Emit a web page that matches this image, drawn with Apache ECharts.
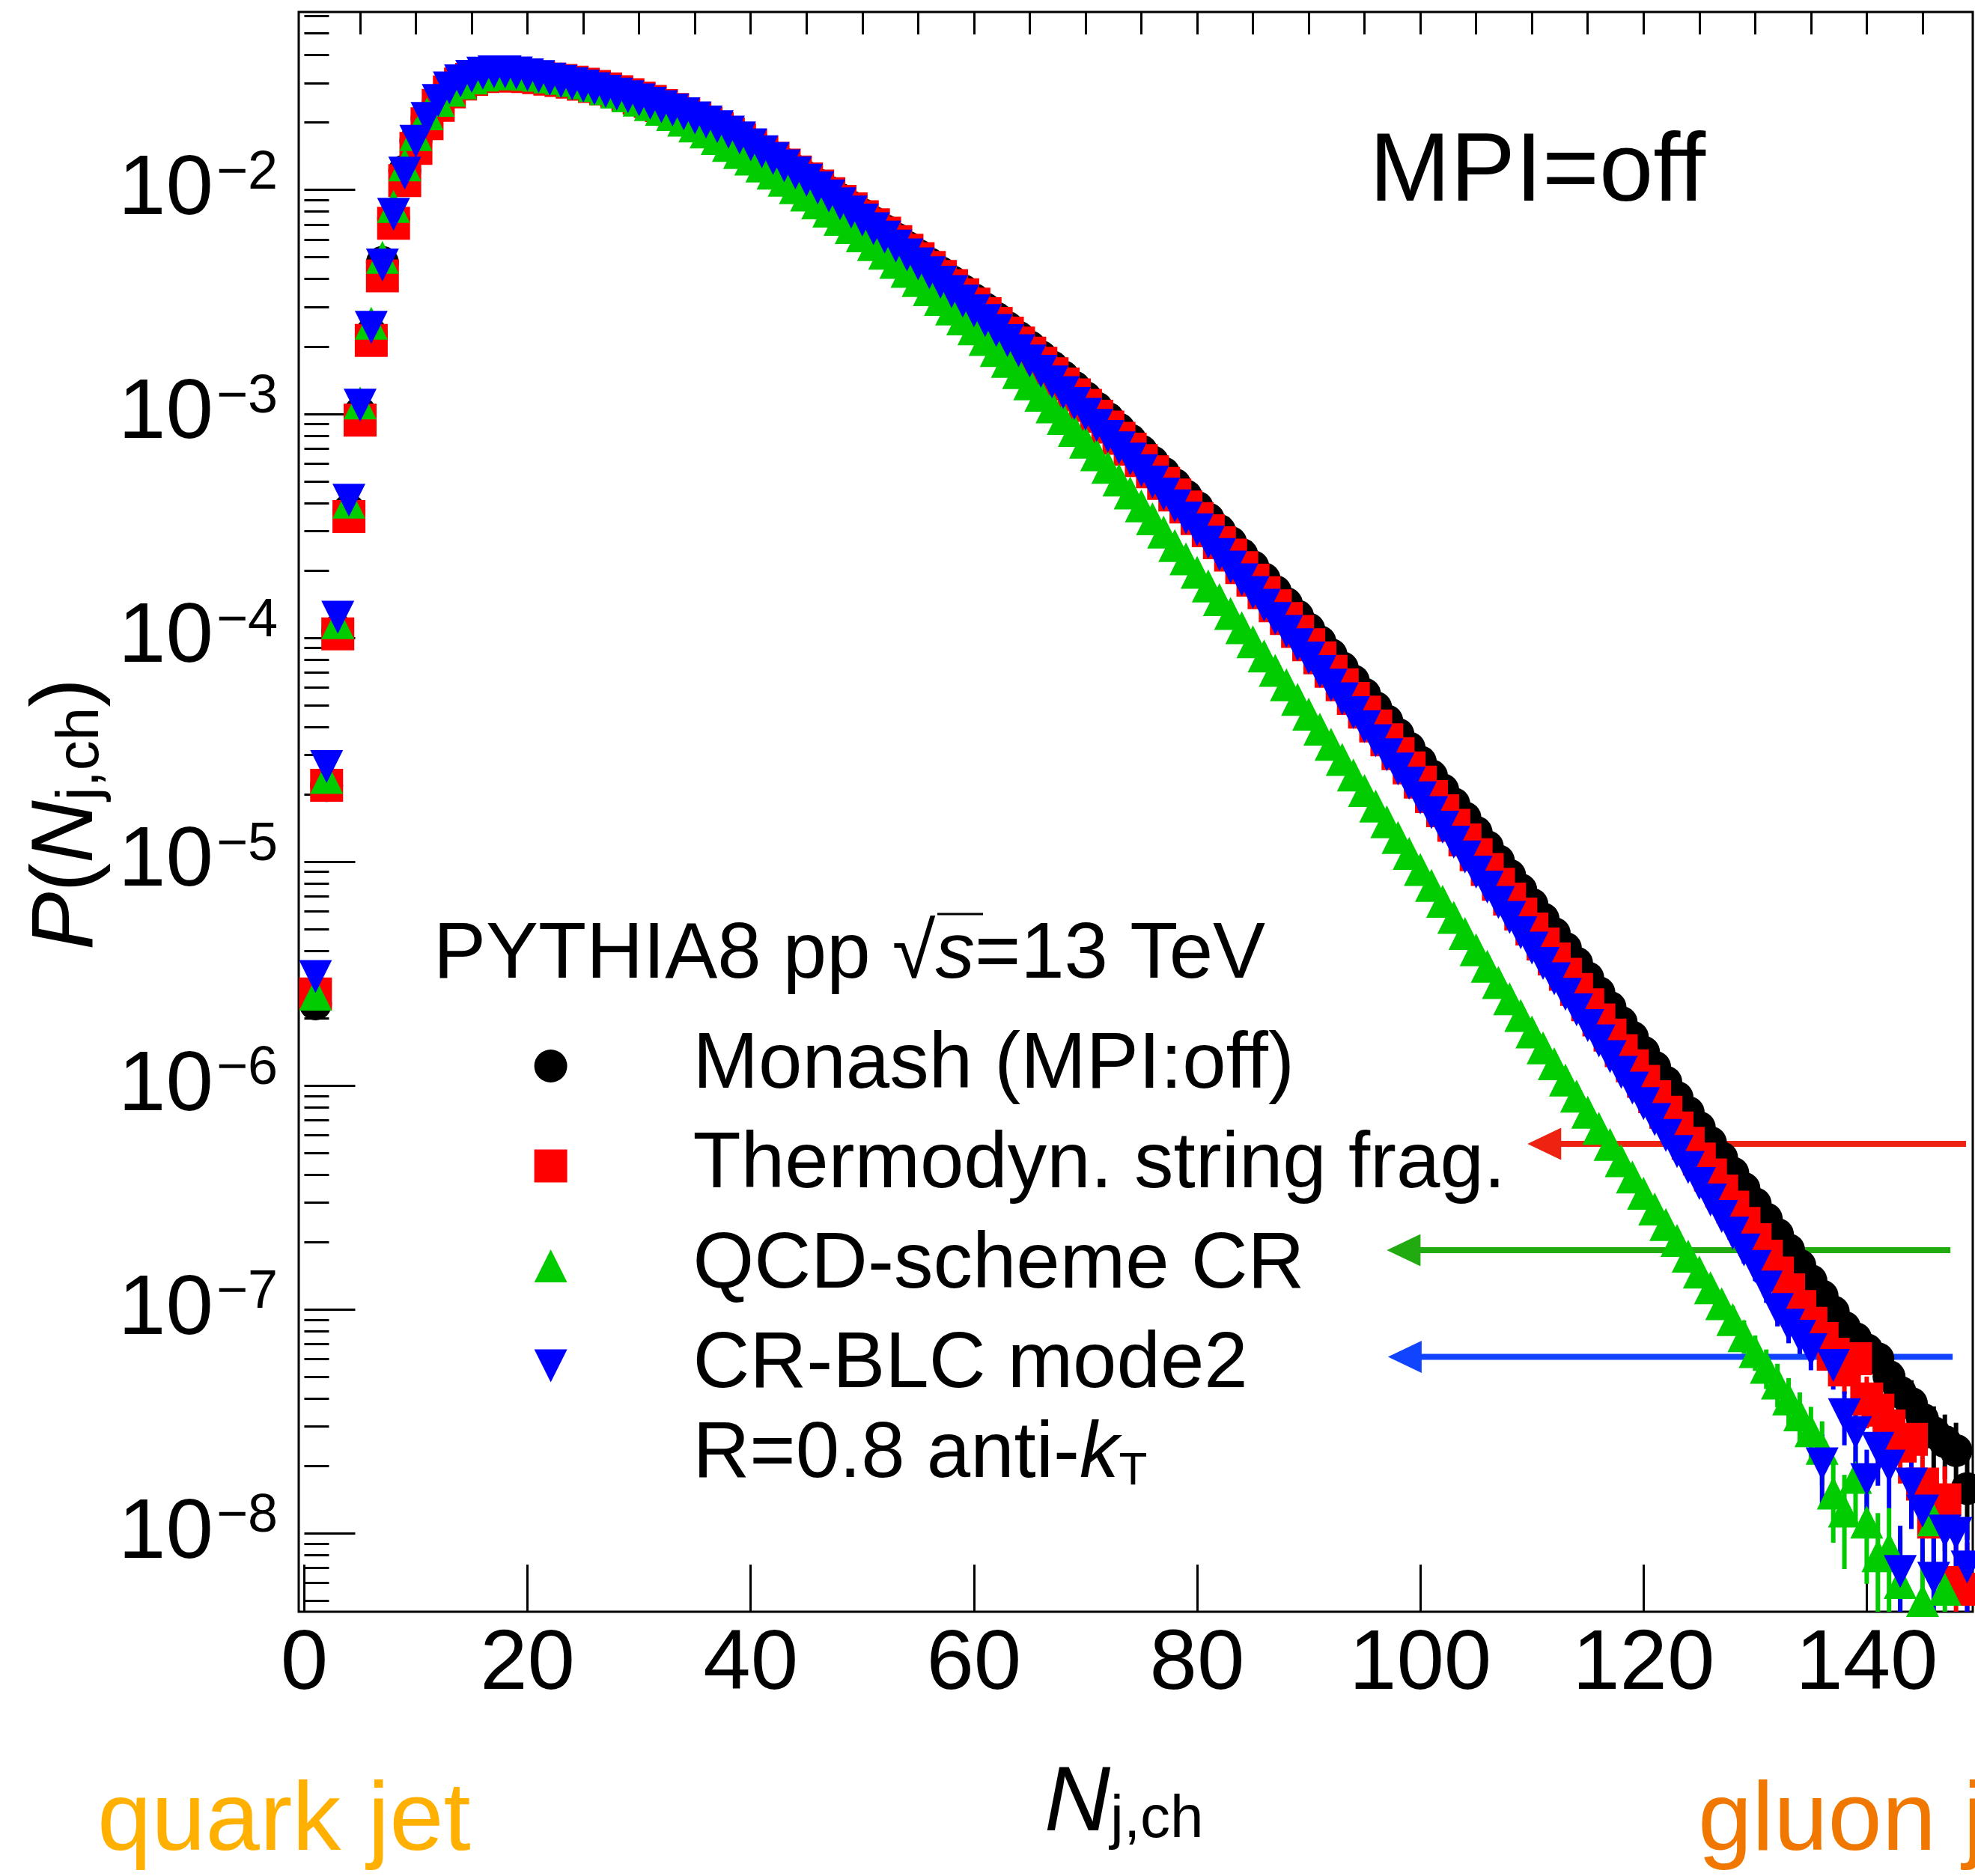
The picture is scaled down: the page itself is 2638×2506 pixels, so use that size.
<!DOCTYPE html>
<html><head><meta charset="utf-8">
<script src="https://cdn.jsdelivr.net/npm/echarts@6/dist/echarts.min.js"></script>
<style>html,body{margin:0;padding:0;background:#fff}#c{width:2638px;height:2506px}</style>
</head><body><div id="c"></div>
<script>
// ---------------- data (log10 of P(N_j,ch)) ----------------
const seriesNames = ['Monash (MPI:off)', 'Thermodyn. string frag.', 'QCD-scheme CR', 'CR-BLC mode2'];
const nch = Array.from({length: 149}, (_, i) => i + 1);   // bins N = 1 ... 149

const log10P_monash = [-5.635,-4.660,-3.969,-3.431,-2.996,-2.644,-2.324,-2.128,-1.915,-1.780,
 -1.680,-1.608,-1.558,-1.526,-1.505,-1.493,-1.488,-1.489,-1.490,-1.493,
 -1.497,-1.503,-1.509,-1.517,-1.526,-1.536,-1.547,-1.559,-1.573,-1.588,
 -1.603,-1.621,-1.639,-1.658,-1.679,-1.701,-1.724,-1.748,-1.773,-1.799,
 -1.827,-1.855,-1.884,-1.914,-1.944,-1.976,-2.009,-2.042,-2.076,-2.110,
 -2.145,-2.181,-2.218,-2.255,-2.292,-2.330,-2.369,-2.409,-2.449,-2.490,
 -2.531,-2.573,-2.615,-2.658,-2.701,-2.745,-2.790,-2.835,-2.881,-2.927,
 -2.974,-3.021,-3.069,-3.117,-3.166,-3.215,-3.265,-3.316,-3.367,-3.418,
 -3.470,-3.522,-3.575,-3.629,-3.683,-3.737,-3.793,-3.848,-3.904,-3.961,
 -4.018,-4.076,-4.134,-4.193,-4.252,-4.312,-4.372,-4.432,-4.493,-4.555,
 -4.617,-4.679,-4.742,-4.805,-4.869,-4.933,-4.997,-5.061,-5.126,-5.191,
 -5.256,-5.321,-5.387,-5.453,-5.519,-5.585,-5.651,-5.718,-5.784,-5.851,
 -5.918,-5.985,-6.053,-6.120,-6.188,-6.255,-6.323,-6.391,-6.460,-6.528,
 -6.596,-6.665,-6.734,-6.803,-6.872,-6.940,-7.010,-7.080,-7.130,-7.180,
 -7.220,-7.300,-7.370,-7.420,-7.490,-7.550,-7.590,-7.630,-7.800];

const log10P_thermo = [-5.591,-4.659,-3.983,-3.459,-3.028,-2.672,-2.384,-2.149,-1.958,-1.815,
 -1.704,-1.622,-1.562,-1.527,-1.506,-1.494,-1.490,-1.490,-1.491,-1.494,
 -1.499,-1.505,-1.511,-1.519,-1.528,-1.538,-1.549,-1.561,-1.575,-1.590,
 -1.605,-1.623,-1.641,-1.660,-1.681,-1.703,-1.726,-1.750,-1.775,-1.802,
 -1.831,-1.859,-1.889,-1.920,-1.951,-1.983,-2.017,-2.051,-2.085,-2.120,
 -2.156,-2.193,-2.231,-2.269,-2.307,-2.346,-2.386,-2.427,-2.468,-2.510,
 -2.553,-2.596,-2.640,-2.684,-2.729,-2.774,-2.821,-2.867,-2.915,-2.962,
 -3.011,-3.059,-3.109,-3.158,-3.209,-3.259,-3.311,-3.363,-3.416,-3.468,
 -3.522,-3.576,-3.631,-3.687,-3.743,-3.799,-3.857,-3.914,-3.972,-4.031,
 -4.090,-4.150,-4.210,-4.271,-4.332,-4.394,-4.456,-4.518,-4.581,-4.645,
 -4.709,-4.773,-4.838,-4.903,-4.969,-5.035,-5.101,-5.167,-5.234,-5.301,
 -5.368,-5.435,-5.503,-5.571,-5.639,-5.707,-5.775,-5.844,-5.912,-5.981,
 -6.050,-6.119,-6.189,-6.258,-6.328,-6.399,-6.471,-6.543,-6.616,-6.688,
 -6.762,-6.837,-6.912,-6.987,-7.062,-7.130,-7.200,-7.270,-7.220,-7.400,
 -7.450,-7.520,-7.610,-7.580,-7.780,-7.950,-7.850,-8.220,-8.250];

const log10P_qcdcr = [-5.592,-4.624,-3.933,-3.394,-2.951,-2.595,-2.301,-2.074,-1.888,-1.753,
 -1.660,-1.600,-1.555,-1.522,-1.500,-1.487,-1.481,-1.479,-1.481,-1.484,
 -1.488,-1.495,-1.502,-1.511,-1.522,-1.534,-1.548,-1.563,-1.580,-1.599,
 -1.619,-1.640,-1.663,-1.688,-1.714,-1.741,-1.770,-1.801,-1.833,-1.862,
 -1.893,-1.925,-1.957,-1.990,-2.023,-2.058,-2.095,-2.131,-2.168,-2.205,
 -2.244,-2.283,-2.324,-2.364,-2.405,-2.446,-2.489,-2.532,-2.576,-2.620,
 -2.668,-2.717,-2.766,-2.816,-2.866,-2.917,-2.969,-3.021,-3.074,-3.127,
 -3.183,-3.239,-3.296,-3.353,-3.411,-3.469,-3.528,-3.588,-3.648,-3.708,
 -3.769,-3.830,-3.892,-3.955,-4.018,-4.081,-4.146,-4.210,-4.275,-4.341,
 -4.408,-4.476,-4.544,-4.613,-4.682,-4.752,-4.822,-4.892,-4.963,-5.035,
 -5.106,-5.177,-5.249,-5.321,-5.394,-5.467,-5.540,-5.613,-5.687,-5.761,
 -5.832,-5.903,-5.975,-6.047,-6.119,-6.191,-6.263,-6.336,-6.408,-6.481,
 -6.551,-6.621,-6.692,-6.762,-6.833,-6.903,-6.974,-7.045,-7.117,-7.188,
 -7.258,-7.329,-7.400,-7.471,-7.542,-7.620,-7.820,-7.900,-7.750,-7.950,
 -8.100,-8.070,-8.220,null,-8.300,-7.940,-8.250,null,null];

const log10P_crblc = [-5.513,-4.575,-3.908,-3.386,-2.961,-2.614,-2.335,-2.109,-1.925,-1.783,
 -1.681,-1.601,-1.545,-1.513,-1.493,-1.479,-1.473,-1.473,-1.478,-1.486,
 -1.494,-1.505,-1.515,-1.526,-1.536,-1.548,-1.560,-1.572,-1.584,-1.598,
 -1.613,-1.628,-1.643,-1.660,-1.678,-1.697,-1.718,-1.742,-1.768,-1.799,
 -1.830,-1.860,-1.892,-1.924,-1.957,-1.991,-2.027,-2.062,-2.099,-2.135,
 -2.173,-2.211,-2.251,-2.290,-2.330,-2.370,-2.412,-2.454,-2.497,-2.540,
 -2.584,-2.628,-2.673,-2.718,-2.764,-2.810,-2.858,-2.905,-2.954,-3.002,
 -3.052,-3.101,-3.152,-3.202,-3.254,-3.305,-3.358,-3.411,-3.465,-3.518,
 -3.573,-3.628,-3.684,-3.741,-3.798,-3.855,-3.914,-3.972,-4.031,-4.091,
 -4.151,-4.212,-4.273,-4.335,-4.397,-4.460,-4.523,-4.586,-4.650,-4.715,
 -4.781,-4.846,-4.913,-4.979,-5.047,-5.114,-5.182,-5.249,-5.318,-5.386,
 -5.455,-5.523,-5.593,-5.662,-5.732,-5.801,-5.871,-5.941,-6.011,-6.081,
 -6.152,-6.223,-6.295,-6.366,-6.438,-6.511,-6.585,-6.659,-6.734,-6.808,
 -6.900,-7.000,-7.070,-7.120,-7.180,-7.690,-7.250,-7.470,-7.550,-7.760,
 -7.620,-7.700,-8.170,-7.780,-7.900,-8.200,-7.990,-8.000,-8.150];

// relative statistical errors of the tail points, for N = 125 ... 149
const errFirstN = 125;
const relErr_monash = [0.06,0.07,0.07,0.08,0.09,0.09,0.10,0.11,0.12,0.13,0.14,0.15,0.16,0.17,0.19,0.20,0.21,0.24,0.25,0.27,0.29,0.31,0.32,0.33,0.41];
const relErr_thermo = [0.07,0.08,0.08,0.09,0.10,0.11,0.12,0.13,0.14,0.15,0.17,0.19,0.20,0.22,0.21,0.26,0.27,0.29,0.32,0.31,0.38,0.45,0.41,0.60,0.62];
const relErr_qcdcr  = [0.12,0.13,0.14,0.15,0.17,0.18,0.20,0.22,0.24,0.26,0.28,0.32,0.40,0.45,0.38,0.47,0.55,0.53,0.64,0,0.70,0.47,0.66,0,0];
const relErr_crblc  = [0.09,0.10,0.11,0.12,0.13,0.14,0.15,0.16,0.17,0.18,0.19,0.35,0.22,0.27,0.29,0.36,0.32,0.35,0.60,0.37,0.44,0.62,0.48,0.49,0.58];

// annotation arrows: tip N, end N, level P
const arrowTipN = [109.6, 97.0, 97.1];
const arrowEndN = [148.9, 147.5, 147.7];
const arrowLevel = [5.49e-7, 1.84e-7, 6.14e-8];

// axis ticks
const xMajorTicks = [0, 20, 40, 60, 80, 100, 120, 140];
const xMinorTicks = [5,10,15,20,25,30,35,40,45,50,55,60,65,70,75,80,85,90,95,100,105,110,115,120,125,130,135,140,145];
const yMajorTicks = [1e-8, 1e-7, 1e-6, 1e-5, 1e-4, 1e-3, 1e-2];

// ---------------- styling ----------------
const FONT = '"Liberation Sans", Arial, Helvetica, sans-serif';
const PMIN = Math.pow(10, -8.350), PMAX = Math.pow(10, -1.2053);
const colors = ['#000000', '#ff0000', '#00cc00', '#0000ff'];
const symbols = ['circle', 'rect', 'triangle', 'path://M0,0L10,0L5,10Z'];
const arrowColors = ['#ee2211', '#22aa11', '#1144ff'];

const yMinorTicks = [];
for (let e = -9; e <= -2; e++) for (let k = 2; k <= 9; k++) {
  const v = k * Math.pow(10, e);
  if (v > PMIN && v < PMAX) yMinorTicks.push(v);
}

const logs = [log10P_monash, log10P_thermo, log10P_qcdcr, log10P_crblc];
const errs = [relErr_monash, relErr_thermo, relErr_qcdcr, relErr_crblc];

function points(arr) {
  const out = [];
  arr.forEach((v, i) => { if (v !== null) out.push([nch[i], Math.pow(10, v)]); });
  return out;
}
function errPoints(arr, er) {
  const out = [];
  er.forEach((e, k) => {
    const n = errFirstN + k; const v = arr[n - 1];
    if (e > 0 && v !== null) out.push([n, Math.pow(10, v), e]);
  });
  return out;
}
function errRender(color) {
  return function (params, api) {
    const x = api.value(0), v = api.value(1), e = api.value(2);
    if (v < PMIN) return;
    const hi = Math.min(v * (1 + e), PMAX), lo = Math.max(v * (1 - e), PMIN);
    const a = api.coord([x, hi]), b = api.coord([x, lo]);
    return {type: 'line', shape: {x1: a[0], y1: a[1], x2: b[0], y2: b[1]},
            style: {stroke: color, lineWidth: 6}};
  };
}

const series = [];
for (let s = 0; s < 4; s++) {
  series.push({
    type: 'custom', name: seriesNames[s] + ' err', xAxisIndex: 0, yAxisIndex: 0,
    data: errPoints(logs[s], errs[s]), renderItem: errRender(colors[s]),
    clip: true, silent: true, encode: {x: 0, y: 1}
  });
  series.push({
    type: 'scatter', name: seriesNames[s], xAxisIndex: 0, yAxisIndex: 0,
    data: points(logs[s]), symbol: symbols[s], symbolSize: 44,
    itemStyle: {color: colors[s], opacity: 1}, clip: true, silent: true
  });
}
series.push({
  type: 'custom', name: 'arrows', xAxisIndex: 0, yAxisIndex: 0, silent: true,
  data: arrowTipN.map((t, i) => [t, arrowEndN[i], arrowLevel[i], i]),
  encode: {x: [0, 1], y: 2},
  renderItem: function (params, api) {
    const t = api.coord([api.value(0), api.value(2)]);
    const e = api.coord([api.value(1), api.value(2)]);
    const c = arrowColors[api.value(3)];
    return {type: 'group', children: [
      {type: 'line', shape: {x1: t[0] + 40, y1: t[1], x2: e[0], y2: e[1]}, style: {stroke: c, lineWidth: 8}},
      {type: 'polygon', shape: {points: [[t[0], t[1]], [t[0] + 45, t[1] - 21.5], [t[0] + 45, t[1] + 21.5]]}, style: {fill: c}}
    ]};
  }
});

const option = {
  backgroundColor: '#ffffff',
  animation: false,
  grid: {left: 399, right: 3, top: 16, bottom: 353, show: true, borderColor: '#000', borderWidth: 3, backgroundColor: 'transparent'},
  xAxis: [
    {type: 'value', min: -0.5, max: 149.5, axisLine: {show: false}, splitLine: {show: false},
     axisTick: {show: true, inside: true, length: 63, lineStyle: {color: '#000', width: 3}, customValues: xMajorTicks},
     axisLabel: {show: true, customValues: xMajorTicks, margin: 14, fontSize: 114, lineHeight: 116,
                 color: '#000', fontFamily: FONT, verticalAlign: 'top'}},
    {type: 'value', min: -0.5, max: 149.5, axisLine: {show: false}, splitLine: {show: false},
     axisLabel: {show: false},
     axisTick: {show: true, inside: true, length: 30, lineStyle: {color: '#000', width: 3}, customValues: xMinorTicks}}
  ],
  yAxis: [
    {type: 'log', logBase: 10, min: PMIN, max: PMAX, position: 'left', axisLine: {show: false}, splitLine: {show: false},
     axisTick: {show: true, inside: true, length: 68, lineStyle: {color: '#000', width: 3}, customValues: yMajorTicks},
     axisLabel: {show: true, customValues: yMajorTicks, margin: 28, color: '#000', fontFamily: FONT,
       formatter: function (v) { return '{b|10}{s|\u2212' + (-Math.round(Math.log10(v))) + '}'; },
       rich: {
         b: {fontSize: 114, lineHeight: 116, padding: [45, 0, 0, 0], verticalAlign: 'bottom', fontFamily: FONT, color: '#000'},
         s: {fontSize: 72, lineHeight: 114, verticalAlign: 'top', fontFamily: FONT, color: '#000', padding: [0, 0, 0, 4]}
       }}},
    {type: 'log', logBase: 10, min: PMIN, max: PMAX, position: 'left', axisLine: {show: false}, splitLine: {show: false},
     axisLabel: {show: false},
     axisTick: {show: true, inside: true, length: 33, lineStyle: {color: '#000', width: 3}, customValues: yMinorTicks}}
  ],
  legend: {
    orient: 'vertical', left: 708.6, top: 1366, itemWidth: 44, itemHeight: 44, itemGap: 27.5,
    data: seriesNames, selectedMode: false,
    formatter: function (n) { return '{sp| }' + n; },
    textStyle: {fontSize: 105, lineHeight: 106, color: '#000', fontFamily: FONT, rich: {sp: {width: 163, fontSize: 105}}}
  },
  graphic: [
    {type: 'text', x: 1829, y: 232, silent: true,
     style: {text: 'MPI=off', fontSize: 130, fontFamily: FONT, fill: '#000', align: 'left', verticalAlign: 'middle'}},
    {type: 'text', x: 579, y: 1276.6, silent: true,
     style: {text: '{t|PYTHIA8 pp }{r|\u221A}{i|s}{t|=13 TeV}', align: 'left', verticalAlign: 'middle',
       rich: {t: {fontSize: 105, lineHeight: 105, fontFamily: FONT, fill: '#000'},
              r: {fontSize: 105, lineHeight: 105, fontFamily: FONT, fill: '#000'},
              i: {fontSize: 105, lineHeight: 105, fontFamily: FONT, fontStyle: 'italic', fill: '#000'}}}},
    {type: 'line', silent: true, shape: {x1: 1252, y1: 1221, x2: 1313, y2: 1221}, style: {stroke: '#000', lineWidth: 3}},
    {type: 'text', x: 925.5, y: 1891.7, silent: true,
     style: {text: '{t|R=0.8 anti-}{k|k}{u|T}', align: 'left', verticalAlign: 'top',
       rich: {t: {fontSize: 105, lineHeight: 105, padding: [0, 0, 20, 0], verticalAlign: 'top', fontFamily: FONT, fill: '#000'},
              k: {fontSize: 105, lineHeight: 105, padding: [0, 0, 20, 0], verticalAlign: 'top', fontFamily: FONT, fontStyle: 'italic', fill: '#000'},
              u: {fontSize: 62, lineHeight: 62, verticalAlign: 'bottom', fontFamily: FONT, fill: '#000'}}}},
    {type: 'text', x: 91, y: 1087.5, rotation: Math.PI / 2, silent: true,
     style: {text: '{mi|P}{mn|(}{mi|N}{u|j,ch}{mn|)}', align: 'center', verticalAlign: 'middle',
       rich: {mi: {fontSize: 116, lineHeight: 116, padding: [0, 0, 31.5, 0], verticalAlign: 'top', fontFamily: FONT, fontStyle: 'italic', fill: '#000'},
              mn: {fontSize: 116, lineHeight: 116, padding: [0, 0, 31.5, 0], verticalAlign: 'top', fontFamily: FONT, fill: '#000'},
              u: {fontSize: 80, lineHeight: 80, verticalAlign: 'bottom', fontFamily: FONT, fill: '#000'}}}},
    {type: 'text', x: 1395, y: 2349.7, silent: true,
     style: {text: '{mi|N}{u|j,ch}', align: 'left', verticalAlign: 'top',
       rich: {mi: {fontSize: 122, lineHeight: 122, padding: [0, 0, 27.6, 0], verticalAlign: 'top', fontFamily: FONT, fontStyle: 'italic', fill: '#000'},
              u: {fontSize: 80, lineHeight: 80, verticalAlign: 'bottom', fontFamily: FONT, fill: '#000'}}}},
    {type: 'text', x: 130, y: 2435, silent: true,
     style: {text: 'quark jet', fontSize: 130, fontFamily: FONT, fill: '#ffb000', align: 'left', verticalAlign: 'middle'}},
    {type: 'text', x: 2268, y: 2435, silent: true,
     style: {text: 'gluon jet', fontSize: 130, fontFamily: FONT, fill: '#f07800', align: 'left', verticalAlign: 'middle'}}
  ],
  series: series
};

const chart = echarts.init(document.getElementById('c'), null, {renderer: 'canvas', width: 2638, height: 2506});
chart.setOption(option);
</script></body></html>
